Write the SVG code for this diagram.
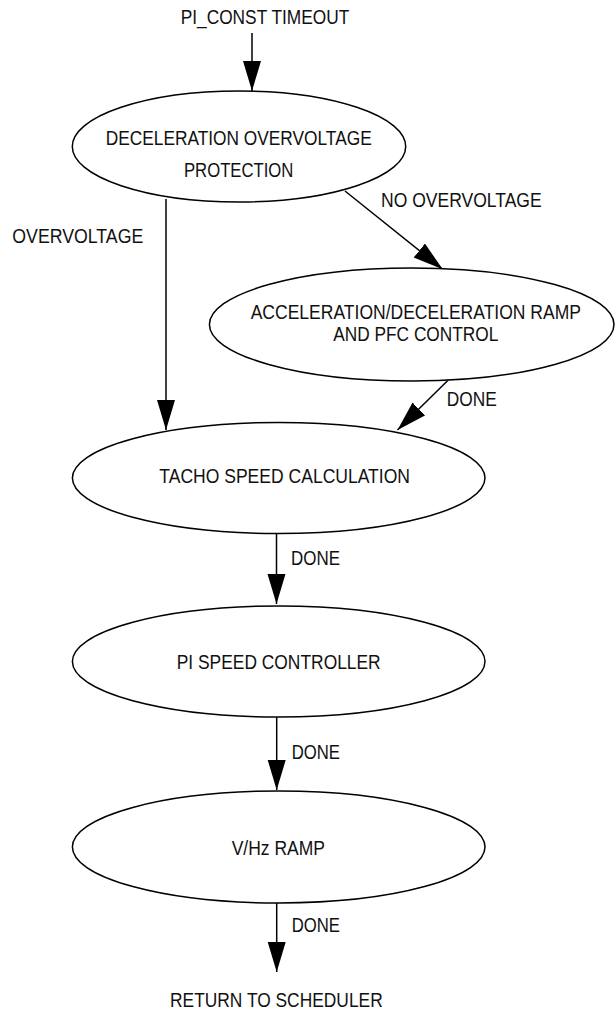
<svg xmlns="http://www.w3.org/2000/svg" width="616" height="1013" viewBox="0 0 616 1013">
<style>
.n{fill:#fff;stroke:#000;stroke-width:1.5}
.c{stroke:#000;stroke-width:1.5;fill:none}
text{font-family:"Liberation Sans",Arial,sans-serif;font-size:21px;fill:#111}
</style>
<defs>
<marker id="ah" markerUnits="userSpaceOnUse" markerWidth="31" markerHeight="19" refX="30" refY="9" orient="auto">
<path d="M0,0 L30,9 L0,18 z" fill="#000"/>
</marker>
</defs>
<rect width="616" height="1013" fill="#fff"/>
<g id="connectors">
<line class="c" x1="252" y1="33" x2="252" y2="91" marker-end="url(#ah)"/>
<line class="c" x1="166" y1="199" x2="166" y2="430" marker-end="url(#ah)"/>
<line class="c" x1="345" y1="191" x2="442.7" y2="269.3" marker-end="url(#ah)"/>
<line class="c" x1="448.3" y1="380" x2="397.5" y2="430" marker-end="url(#ah)"/>
<line class="c" x1="276.5" y1="534" x2="276.5" y2="604" marker-end="url(#ah)"/>
<line class="c" x1="276.7" y1="717" x2="276.7" y2="790" marker-end="url(#ah)"/>
<line class="c" x1="276.7" y1="903" x2="276.7" y2="972" marker-end="url(#ah)"/>
<text x="381" y="207" textLength="160.7" lengthAdjust="spacingAndGlyphs">NO OVERVOLTAGE</text>
<text x="12.3" y="243" textLength="131" lengthAdjust="spacingAndGlyphs">OVERVOLTAGE</text>
<text x="446.7" y="406" textLength="50" lengthAdjust="spacingAndGlyphs">DONE</text>
<text x="291" y="565" textLength="49" lengthAdjust="spacingAndGlyphs">DONE</text>
<text x="291.7" y="759" textLength="48.3" lengthAdjust="spacingAndGlyphs">DONE</text>
<text x="291.7" y="931.7" textLength="48.3" lengthAdjust="spacingAndGlyphs">DONE</text>
</g>
<g id="start">
<text x="180.7" y="24.3" textLength="168.6" lengthAdjust="spacingAndGlyphs">PI_CONST TIMEOUT</text>
</g>
<g id="decel">
<ellipse class="n" cx="239" cy="146.5" rx="166.7" ry="55.5"/>
<text x="105.7" y="145" textLength="266" lengthAdjust="spacingAndGlyphs">DECELERATION OVERVOLTAGE</text>
<text x="184" y="177" textLength="109.3" lengthAdjust="spacingAndGlyphs">PROTECTION</text>
</g>
<g id="accel">
<ellipse class="n" cx="411.7" cy="324.5" rx="202.3" ry="56.5"/>
<text x="250.7" y="319" textLength="330.3" lengthAdjust="spacingAndGlyphs">ACCELERATION/DECELERATION RAMP</text>
<text x="333.3" y="340.7" textLength="165" lengthAdjust="spacingAndGlyphs">AND PFC CONTROL</text>
</g>
<g id="tacho">
<ellipse class="n" cx="278.7" cy="478" rx="206.3" ry="55.5"/>
<text x="159.3" y="483" textLength="250.7" lengthAdjust="spacingAndGlyphs">TACHO SPEED CALCULATION</text>
</g>
<g id="pi">
<ellipse class="n" cx="278.7" cy="661.5" rx="206.3" ry="55.5"/>
<text x="176.7" y="669" textLength="204" lengthAdjust="spacingAndGlyphs">PI SPEED CONTROLLER</text>
</g>
<g id="vhz">
<ellipse class="n" cx="278.7" cy="847" rx="206.3" ry="56"/>
<text x="231.7" y="855" textLength="93.3" lengthAdjust="spacingAndGlyphs">V/Hz RAMP</text>
</g>
<g id="end">
<text x="170" y="1006.7" textLength="212.7" lengthAdjust="spacingAndGlyphs">RETURN TO SCHEDULER</text>
</g>
</svg>
